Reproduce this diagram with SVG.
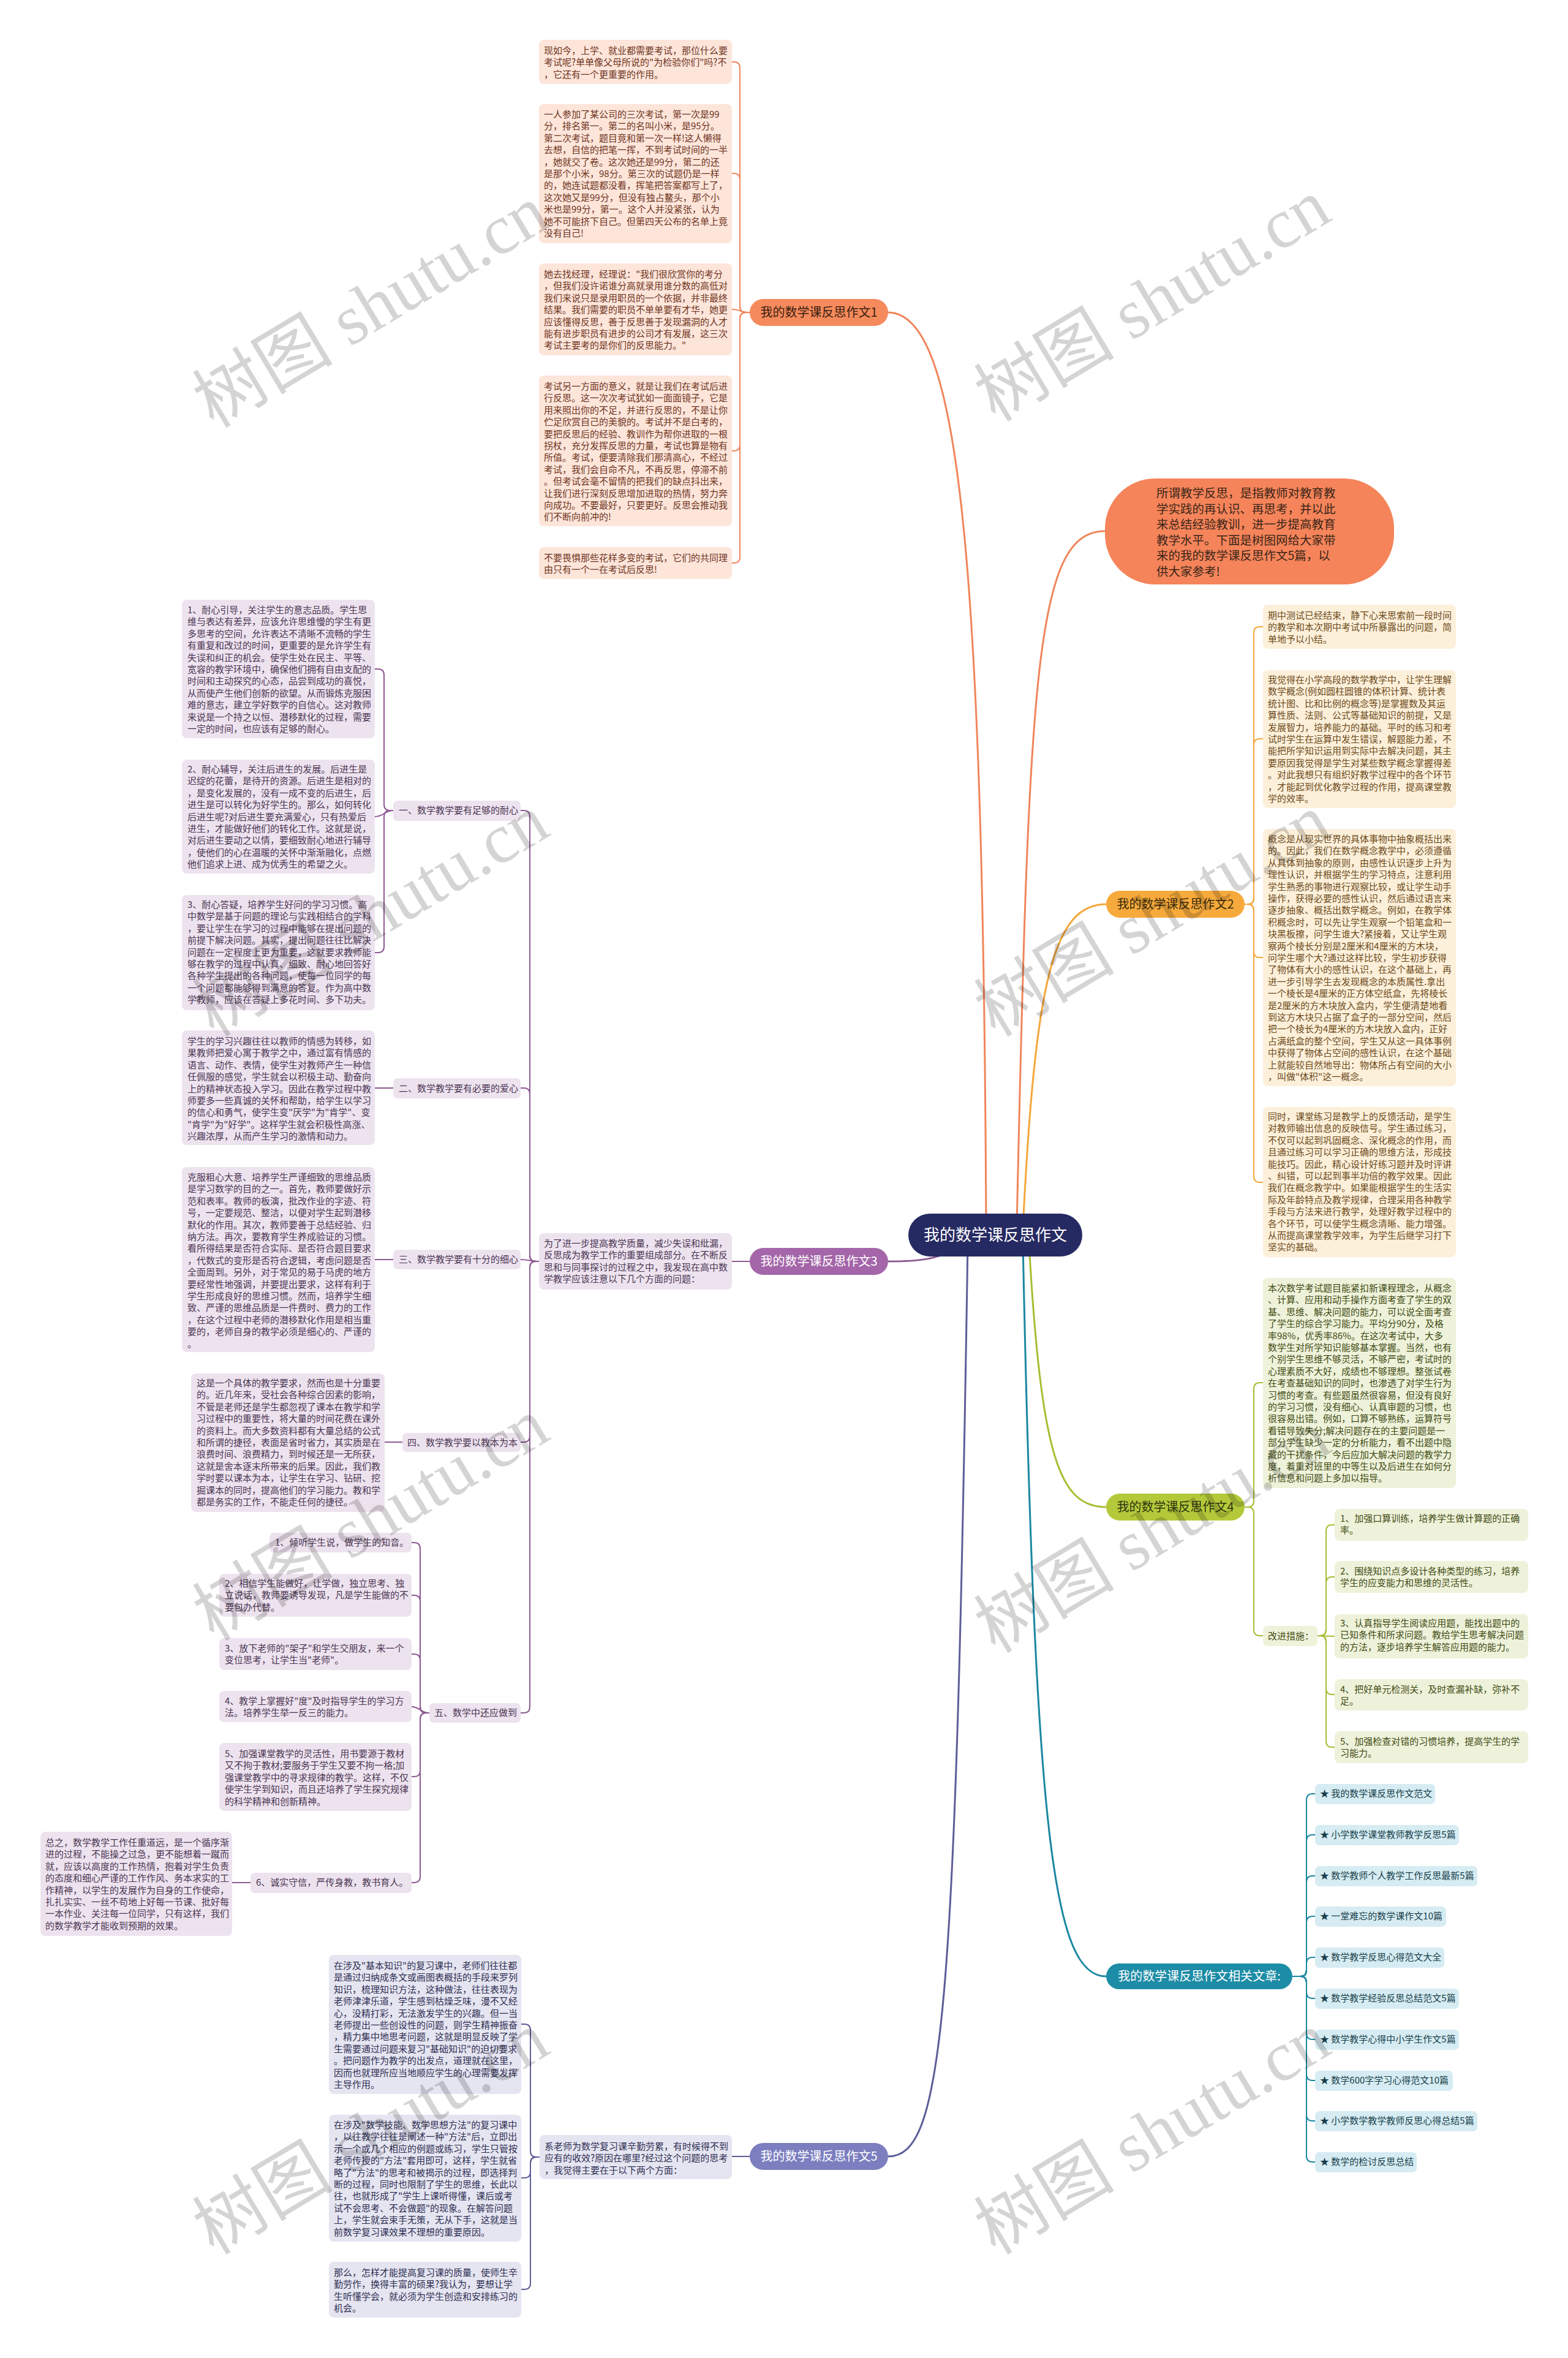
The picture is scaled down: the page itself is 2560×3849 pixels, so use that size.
<svg xmlns="http://www.w3.org/2000/svg" width="2560" height="3849" viewBox="0 0 2560 3849">
<style>
text{font-family:"Noto Sans CJK SC","Noto Sans",sans-serif;}
.lf{font-size:15px;}
.k1 rect{fill:#fde5da}.k1 text{fill:#6d3421}
.k2 rect{fill:#fdf0da}.k2 text{fill:#6b4a1a}
.k3 rect{fill:#ede3ef}.k3 text{fill:#4b3552}
.k4 rect{fill:#eef2da}.k4 text{fill:#3f4a14}
.k6 rect{fill:#d6ecf2}.k6 text{fill:#173e4a}
.k5 rect{fill:#e5e5f1}.k5 text{fill:#2e2e52}
.br text{font-size:20px;text-anchor:middle}
#connectors path{fill:none;stroke-width:2}
.s1{stroke:#f0855a}.s2{stroke:#f4a73a}.s3{stroke:#8e5a94}.s4{stroke:#a8bd32}.s6{stroke:#1a87a0}.s5{stroke:#5d5d97}
#connectors path.m{stroke-width:3}
.wm{font-family:"Liberation Serif","Noto Sans CJK SC",serif;font-size:115px;fill:#000;fill-opacity:0.17}
</style>
<rect width="2560" height="3849" fill="#ffffff"/>

<g id="connectors">
<!-- main -->
<path class="s1 m" d="M1610,2000 C1605,900 1565,510 1450,510"/>
<path class="s1 m" d="M1660,2000 C1680,1100 1690,867 1804,867"/>
<path class="s2 m" d="M1670,2005 C1690,1600 1720,1476 1806,1476"/>
<path class="s3 m" d="M1580,2030 C1530,2059 1490,2059 1450,2059"/>
<path class="s4 m" d="M1680,2030 C1700,2380 1730,2460 1806,2460"/>
<path class="s6 m" d="M1670,2030 C1690,3000 1720,3226 1806,3226"/>
<path class="s5 m" d="M1580,2030 C1560,3300 1540,3520 1450,3520"/>
<!-- branch 1 -->
<path class="s1" d="M1224,510 L1218,510 Q1208,510 1208,500 L1208,111 Q1208,101 1198,101 L1195,101"/>
<path class="s1" d="M1224,510 L1218,510 Q1208,510 1208,500 L1208,293 Q1208,283 1198,283 L1195,283"/>
<path class="s1" d="M1224,510 C1208,510 1210,505 1195,505"/>
<path class="s1" d="M1224,510 L1218,510 Q1208,510 1208,520 L1208,726 Q1208,736 1198,736 L1195,736"/>
<path class="s1" d="M1224,510 L1218,510 Q1208,510 1208,520 L1208,909 Q1208,919 1198,919 L1195,919"/>
<!-- branch 2 -->
<path class="s2" d="M2032,1476 L2037,1476 Q2047,1476 2047,1466 L2047,1033 Q2047,1023 2057,1023 L2062,1023"/>
<path class="s2" d="M2032,1476 L2037,1476 Q2047,1476 2047,1466 L2047,1216 Q2047,1206 2057,1206 L2062,1206"/>
<path class="s2" d="M2032,1476 L2037,1476 Q2047,1476 2047,1486 L2047,1553 Q2047,1563 2057,1563 L2062,1563"/>
<path class="s2" d="M2032,1476 L2037,1476 Q2047,1476 2047,1486 L2047,1920 Q2047,1930 2057,1930 L2062,1930"/>
<!-- branch 3 -->
<path class="s3" d="M1224,2059 L1195,2059"/>
<path class="s3" d="M880,2059 L875,2059 Q865,2059 865,2049 L865,1333 Q865,1323 855,1323 L850,1323"/>
<path class="s3" d="M880,2059 L875,2059 Q865,2059 865,2049 L865,1786 Q865,1776 855,1776 L850,1776"/>
<path class="s3" d="M880,2059 C865,2059 865,2056 850,2056"/>
<path class="s3" d="M880,2059 L875,2059 Q865,2059 865,2069 L865,2344 Q865,2354 855,2354 L850,2354"/>
<path class="s3" d="M880,2059 L875,2059 Q865,2059 865,2069 L865,2786 Q865,2796 855,2796 L850,2796"/>
<path class="s3" d="M642,1323 L637,1323 Q627,1323 627,1313 L627,1102 Q627,1092 617,1092 L612,1092"/>
<path class="s3" d="M642,1323 C627,1323 627,1333 612,1333"/>
<path class="s3" d="M642,1323 L637,1323 Q627,1323 627,1333 L627,1545 Q627,1555 617,1555 L612,1555"/>
<path class="s3" d="M642,1776 L612,1776"/>
<path class="s3" d="M642,2056 L612,2056"/>
<path class="s3" d="M657,2354 L628,2354"/>
<path class="s3" d="M701,2796 L696,2796 Q686,2796 686,2786 L686,2528 Q686,2518 676,2518 L672,2518"/>
<path class="s3" d="M701,2796 L696,2796 Q686,2796 686,2786 L686,2614 Q686,2604 676,2604 L672,2604"/>
<path class="s3" d="M701,2796 L696,2796 Q686,2796 686,2786 L686,2710 Q686,2700 676,2700 L672,2700"/>
<path class="s3" d="M701,2796 C686,2796 686,2786 672,2786"/>
<path class="s3" d="M701,2796 L696,2796 Q686,2796 686,2806 L686,2890 Q686,2900 676,2900 L672,2900"/>
<path class="s3" d="M701,2796 L696,2796 Q686,2796 686,2806 L686,3063 Q686,3073 676,3073 L672,3073"/>
<path class="s3" d="M409,3073 L379,3073"/>
<!-- branch 4 -->
<path class="s4" d="M2032,2460 L2037,2460 Q2047,2460 2047,2450 L2047,2267 Q2047,2257 2057,2257 L2062,2257"/>
<path class="s4" d="M2032,2460 L2037,2460 Q2047,2460 2047,2470 L2047,2660 Q2047,2670 2057,2670 L2062,2670"/>
<path class="s4" d="M2151,2670 L2155,2670 Q2165,2670 2165,2660 L2165,2499 Q2165,2489 2175,2489 L2179,2489"/>
<path class="s4" d="M2151,2670 L2155,2670 Q2165,2670 2165,2660 L2165,2584 Q2165,2574 2175,2574 L2179,2574"/>
<path class="s4" d="M2151,2670 L2179,2671"/>
<path class="s4" d="M2151,2670 L2155,2670 Q2165,2670 2165,2680 L2165,2756 Q2165,2766 2175,2766 L2179,2766"/>
<path class="s4" d="M2151,2670 L2155,2670 Q2165,2670 2165,2680 L2165,2842 Q2165,2852 2175,2852 L2179,2852"/>
<!-- related -->
<path class="s6" d="M2110,3226 L2123,3226 Q2133,3226 2133,3216 L2133,2938 Q2133,2928 2143,2928 L2147,2928"/>
<path class="s6" d="M2110,3226 L2123,3226 Q2133,3226 2133,3216 L2133,3005 Q2133,2995 2143,2995 L2147,2995"/>
<path class="s6" d="M2110,3226 L2123,3226 Q2133,3226 2133,3216 L2133,3072 Q2133,3062 2143,3062 L2147,3062"/>
<path class="s6" d="M2110,3226 L2123,3226 Q2133,3226 2133,3216 L2133,3138 Q2133,3128 2143,3128 L2147,3128"/>
<path class="s6" d="M2110,3226 L2123,3226 Q2133,3226 2133,3216 L2133,3205 Q2133,3195 2143,3195 L2147,3195"/>
<path class="s6" d="M2110,3226 L2123,3226 Q2133,3226 2133,3236 L2133,3252 Q2133,3262 2143,3262 L2147,3262"/>
<path class="s6" d="M2110,3226 L2123,3226 Q2133,3226 2133,3236 L2133,3319 Q2133,3329 2143,3329 L2147,3329"/>
<path class="s6" d="M2110,3226 L2123,3226 Q2133,3226 2133,3236 L2133,3386 Q2133,3396 2143,3396 L2147,3396"/>
<path class="s6" d="M2110,3226 L2123,3226 Q2133,3226 2133,3236 L2133,3452 Q2133,3462 2143,3462 L2147,3462"/>
<path class="s6" d="M2110,3226 L2123,3226 Q2133,3226 2133,3236 L2133,3519 Q2133,3529 2143,3529 L2147,3529"/>
<!-- branch 5 -->
<path class="s5" d="M1224,3520 L1195,3520"/>
<path class="s5" d="M881,3521 L876,3521 Q866,3521 866,3511 L866,3314 Q866,3304 856,3304 L851,3304"/>
<path class="s5" d="M881,3521 L876,3521 Q866,3521 866,3531 L866,3545 Q866,3555 856,3555 L851,3555"/>
<path class="s5" d="M881,3521 L876,3521 Q866,3521 866,3531 L866,3727 Q866,3737 856,3737 L851,3737"/>
</g>

<!-- central -->
<g id="central">
<rect x="1483" y="1981" width="284" height="70" rx="35" fill="#262a62"/>
<text x="1625" y="2025" font-size="26" fill="#ffffff" text-anchor="middle">我的数学课反思作文</text>
</g>

<!-- intro -->
<g id="intro">
<rect x="1804" y="781" width="472" height="173" rx="82" fill="#f5845a"/>
<text font-size="19.5" fill="#3a2418" x="1888" y="812">
<tspan x="1888">所谓教学反思，是指教师对教育教</tspan>
<tspan x="1888" dy="25.6">学实践的再认识、再思考，并以此</tspan>
<tspan x="1888" dy="25.6">来总结经验教训，进一步提高教育</tspan>
<tspan x="1888" dy="25.6">教学水平。下面是树图网给大家带</tspan>
<tspan x="1888" dy="25.6">来的我的数学课反思作文5篇，以</tspan>
<tspan x="1888" dy="25.6">供大家参考!</tspan>
</text>
</g>

<!-- branch nodes -->
<g id="b1" class="br"><rect x="1224" y="488" width="226" height="44" rx="22" fill="#f58a5c"/><text x="1337" y="517" fill="#3a1e10">我的数学课反思作文1</text></g>
<g id="b2" class="br"><rect x="1806" y="1454" width="226" height="44" rx="22" fill="#f7aa3c"/><text x="1919" y="1483" fill="#3a2a0a">我的数学课反思作文2</text></g>
<g id="b3" class="br"><rect x="1224" y="2037" width="226" height="44" rx="22" fill="#a466a9"/><text x="1337" y="2066" fill="#ffffff">我的数学课反思作文3</text></g>
<g id="b4" class="br"><rect x="1806" y="2438" width="226" height="44" rx="22" fill="#b4c93a"/><text x="1919" y="2467" fill="#2f3510">我的数学课反思作文4</text></g>
<g id="b6" class="br"><rect x="1806" y="3205" width="304" height="42" rx="21" fill="#1d8ca6"/><text x="1958" y="3233" fill="#ffffff">我的数学课反思作文相关文章:</text></g>
<g id="b5" class="br"><rect x="1224" y="3498" width="226" height="44" rx="22" fill="#7c7ebf"/><text x="1337" y="3527" fill="#ffffff">我的数学课反思作文5</text></g>

<!-- branch 1 leaves -->
<g class="k1 lf">
<g id="b1l1"><rect x="880" y="65" width="315" height="72" rx="8"/>
<text x="888" y="88"><tspan x="888">现如今，上学、就业都需要考试，那位什么要</tspan><tspan x="888" dy="19.4">考试呢?单单像父母所说的"为检验你们"吗?不</tspan><tspan x="888" dy="19.4">，它还有一个更重要的作用。</tspan></text></g>
<g id="b1l2"><rect x="880" y="170" width="315" height="227" rx="8"/>
<text x="888" y="192"><tspan x="888">一人参加了某公司的三次考试，第一次是99</tspan><tspan x="888" dy="19.4">分，排名第一。第二的名叫小米，是95分。</tspan><tspan x="888" dy="19.4">第二次考试，题目竟和第一次一样!这人懒得</tspan><tspan x="888" dy="19.4">去想，自信的把笔一挥，不到考试时间的一半</tspan><tspan x="888" dy="19.4">，她就交了卷。这次她还是99分，第二的还</tspan><tspan x="888" dy="19.4">是那个小米，98分。第三次的试题仍是一样</tspan><tspan x="888" dy="19.4">的，她连试题都没看，挥笔把答案都写上了，</tspan><tspan x="888" dy="19.4">这次她又是99分，但没有独占鳌头，那个小</tspan><tspan x="888" dy="19.4">米也是99分，第一。这个人并没紧张，认为</tspan><tspan x="888" dy="19.4">她不可能挤下自己。但第四天公布的名单上竟</tspan><tspan x="888" dy="19.4">没有自己!</tspan></text></g>
<g id="b1l3"><rect x="880" y="430" width="315" height="150" rx="8"/>
<text x="888" y="453"><tspan x="888">她去找经理，经理说："我们很欣赏你的考分</tspan><tspan x="888" dy="19.4">，但我们没许诺谁分高就录用谁分数的高低对</tspan><tspan x="888" dy="19.4">我们来说只是录用职员的一个依据，并非最终</tspan><tspan x="888" dy="19.4">结果。我们需要的职员不单单要有才华，她更</tspan><tspan x="888" dy="19.4">应该懂得反思，善于反思善于发现漏洞的人才</tspan><tspan x="888" dy="19.4">能有进步职员有进步的公司才有发展，这三次</tspan><tspan x="888" dy="19.4">考试主要考的是你们的反思能力。"</tspan></text></g>
<g id="b1l4"><rect x="880" y="613" width="315" height="246" rx="8"/>
<text x="888" y="636"><tspan x="888">考试另一方面的意义，就是让我们在考试后进</tspan><tspan x="888" dy="19.4">行反思。这一次次考试犹如一面面镜子，它是</tspan><tspan x="888" dy="19.4">用来照出你的不足，并进行反思的，不是让你</tspan><tspan x="888" dy="19.4">伫足欣赏自己的美貌的。考试并不是白考的，</tspan><tspan x="888" dy="19.4">要把反思后的经验、教训作为帮你进取的一根</tspan><tspan x="888" dy="19.4">拐杖，充分发挥反思的力量，考试也算是物有</tspan><tspan x="888" dy="19.4">所值。考试，便要清除我们那清高心，不经过</tspan><tspan x="888" dy="19.4">考试，我们会自命不凡，不再反思，停滞不前</tspan><tspan x="888" dy="19.4">。但考试会毫不留情的把我们的缺点抖出来，</tspan><tspan x="888" dy="19.4">让我们进行深刻反思增加进取的热情，努力奔</tspan><tspan x="888" dy="19.4">向成功。不要最好，只要更好。反思会推动我</tspan><tspan x="888" dy="19.4">们不断向前冲的!</tspan></text></g>
<g id="b1l5"><rect x="880" y="893" width="315" height="52" rx="8"/>
<text x="888" y="916"><tspan x="888">不要畏惧那些花样多变的考试，它们的共同理</tspan><tspan x="888" dy="19.4">由只有一个一在考试后反思!</tspan></text></g>
</g>

<!-- branch 2 leaves -->
<g class="k2 lf">
<g id="b2l1"><rect x="2062" y="987" width="315" height="72" rx="8"/>
<text x="2070" y="1010"><tspan x="2070">期中测试已经结束，静下心来思索前一段时间</tspan><tspan x="2070" dy="19.4">的教学和本次期中考试中所暴露出的问题，简</tspan><tspan x="2070" dy="19.4">单地予以小结。</tspan></text></g>
<g id="b2l2"><rect x="2062" y="1094" width="315" height="225" rx="8"/>
<text x="2070" y="1115"><tspan x="2070">我觉得在小学高段的数学教学中，让学生理解</tspan><tspan x="2070" dy="19.4">数学概念(例如圆柱圆锥的体积计算、统计表</tspan><tspan x="2070" dy="19.4">统计图、比和比例的概念等)是掌握数及其运</tspan><tspan x="2070" dy="19.4">算性质、法则、公式等基础知识的前提，又是</tspan><tspan x="2070" dy="19.4">发展智力，培养能力的基础。平时的练习和考</tspan><tspan x="2070" dy="19.4">试时学生在运算中发生错误，解题能力差，不</tspan><tspan x="2070" dy="19.4">能把所学知识运用到实际中去解决问题，其主</tspan><tspan x="2070" dy="19.4">要原因我觉得是学生对某些数学概念掌握得差</tspan><tspan x="2070" dy="19.4">。对此我想只有组织好教学过程中的各个环节</tspan><tspan x="2070" dy="19.4">，才能起到优化教学过程的作用，提高课堂教</tspan><tspan x="2070" dy="19.4">学的效率。</tspan></text></g>
<g id="b2l3"><rect x="2062" y="1353" width="315" height="420" rx="8"/>
<text x="2070" y="1375"><tspan x="2070">概念是从现实世界的具体事物中抽象概括出来</tspan><tspan x="2070" dy="19.4">的。因此，我们在数学概念教学中，必须遵循</tspan><tspan x="2070" dy="19.4">从具体到抽象的原则，由感性认识逐步上升为</tspan><tspan x="2070" dy="19.4">理性认识，并根据学生的学习特点，注意利用</tspan><tspan x="2070" dy="19.4">学生熟悉的事物进行观察比较，或让学生动手</tspan><tspan x="2070" dy="19.4">操作，获得必要的感性认识，然后通过语言来</tspan><tspan x="2070" dy="19.4">逐步抽象、概括出数学概念。例如，在教学体</tspan><tspan x="2070" dy="19.4">积概念时，可以先让学生观察一个铅笔盒和一</tspan><tspan x="2070" dy="19.4">块黑板擦，问学生谁大?紧接着，又让学生观</tspan><tspan x="2070" dy="19.4">察两个棱长分别是2厘米和4厘米的方木块，</tspan><tspan x="2070" dy="19.4">问学生哪个大?通过这样比较，学生初步获得</tspan><tspan x="2070" dy="19.4">了物体有大小的感性认识，在这个基础上，再</tspan><tspan x="2070" dy="19.4">进一步引导学生去发现概念的本质属性.拿出</tspan><tspan x="2070" dy="19.4">一个棱长是4厘米的正方体空纸盒，先将棱长</tspan><tspan x="2070" dy="19.4">是2厘米的方木块放入盒内，学生便清楚地看</tspan><tspan x="2070" dy="19.4">到这方木块只占据了盒子的一部分空间，然后</tspan><tspan x="2070" dy="19.4">把一个棱长为4厘米的方木块放入盒内，正好</tspan><tspan x="2070" dy="19.4">占满纸盒的整个空间，学生又从这一具体事例</tspan><tspan x="2070" dy="19.4">中获得了物体占空间的感性认识，在这个基础</tspan><tspan x="2070" dy="19.4">上就能较自然地导出：物体所占有空间的大小</tspan><tspan x="2070" dy="19.4">，叫做"体积"这一概念。</tspan></text></g>
<g id="b2l4"><rect x="2062" y="1807" width="315" height="245" rx="8"/>
<text x="2070" y="1828"><tspan x="2070">同时，课堂练习是教学上的反馈活动，是学生</tspan><tspan x="2070" dy="19.4">对教师输出信息的反映信号。学生通过练习，</tspan><tspan x="2070" dy="19.4">不仅可以起到巩固概念、深化概念的作用，而</tspan><tspan x="2070" dy="19.4">且通过练习可以学习正确的思维方法，形成技</tspan><tspan x="2070" dy="19.4">能技巧。因此，精心设计好练习题并及时评讲</tspan><tspan x="2070" dy="19.4">、纠错，可以起到事半功倍的教学效果。因此</tspan><tspan x="2070" dy="19.4">我们在概念教学中。如果能根据学生的生活实</tspan><tspan x="2070" dy="19.4">际及年龄特点及教学规律，合理采用各种教学</tspan><tspan x="2070" dy="19.4">手段与方法来进行教学，处理好教学过程中的</tspan><tspan x="2070" dy="19.4">各个环节，可以使学生概念清晰、能力增强。</tspan><tspan x="2070" dy="19.4">从而提高课堂教学效率，为学生后继学习打下</tspan><tspan x="2070" dy="19.4">坚实的基础。</tspan></text></g>
</g>

<!-- branch 3 -->
<g class="k3 lf">
<g id="b3desc"><rect x="880" y="2013" width="315" height="92" rx="8"/>
<text x="888" y="2035"><tspan x="888">为了进一步提高教学质量，减少失误和纰漏，</tspan><tspan x="888" dy="19.4">反思成为教学工作的重要组成部分。在不断反</tspan><tspan x="888" dy="19.4">思和与同事探讨的过程之中，我发现在高中数</tspan><tspan x="888" dy="19.4">学教学应该注意以下几个方面的问题：</tspan></text></g>
<g id="b3s1"><rect x="642" y="1307" width="208" height="33" rx="7"/><text x="651" y="1328">一、数学教学要有足够的耐心</text></g>
<g id="b3s2"><rect x="642" y="1760" width="208" height="33" rx="7"/><text x="651" y="1782">二、数学教学要有必要的爱心</text></g>
<g id="b3s3"><rect x="642" y="2040" width="208" height="32" rx="7"/><text x="651" y="2061">三、数学教学要有十分的细心</text></g>
<g id="b3s4"><rect x="657" y="2339" width="193" height="31" rx="7"/><text x="665" y="2360">四、数学教学要以教本为本</text></g>
<g id="b3s5"><rect x="701" y="2780" width="149" height="32" rx="7"/><text x="709" y="2801">五、数学中还应做到</text></g>
<g id="b3s1a"><rect x="297" y="979" width="315" height="226" rx="8"/>
<text x="306" y="1001"><tspan x="306">1、耐心引导，关注学生的意志品质。学生思</tspan><tspan x="306" dy="19.4">维与表达有差异，应该允许思维慢的学生有更</tspan><tspan x="306" dy="19.4">多思考的空间，允许表达不清晰不流畅的学生</tspan><tspan x="306" dy="19.4">有重复和改过的时间，更重要的是允许学生有</tspan><tspan x="306" dy="19.4">失误和纠正的机会。使学生处在民主、平等、</tspan><tspan x="306" dy="19.4">宽容的教学环境中，确保他们拥有自由支配的</tspan><tspan x="306" dy="19.4">时间和主动探究的心态，品尝到成功的喜悦，</tspan><tspan x="306" dy="19.4">从而使产生他们创新的欲望。从而锻炼克服困</tspan><tspan x="306" dy="19.4">难的意志，建立学好数学的自信心。这对教师</tspan><tspan x="306" dy="19.4">来说是一个持之以恒、潜移默化的过程，需要</tspan><tspan x="306" dy="19.4">一定的时间，也应该有足够的耐心。</tspan></text></g>
<g id="b3s1b"><rect x="297" y="1240" width="315" height="186" rx="8"/>
<text x="306" y="1261"><tspan x="306">2、耐心辅导，关注后进生的发展。后进生是</tspan><tspan x="306" dy="19.4">迟绽的花蕾，是待开的资源。后进生是相对的</tspan><tspan x="306" dy="19.4">，是变化发展的，没有一成不变的后进生，后</tspan><tspan x="306" dy="19.4">进生是可以转化为好学生的。那么，如何转化</tspan><tspan x="306" dy="19.4">后进生呢?对后进生要充满爱心，只有热爱后</tspan><tspan x="306" dy="19.4">进生，才能做好他们的转化工作。这就是说，</tspan><tspan x="306" dy="19.4">对后进生要动之以情，要细致耐心地进行辅导</tspan><tspan x="306" dy="19.4">，使他们的心在温暖的关怀中渐渐融化，点燃</tspan><tspan x="306" dy="19.4">他们追求上进、成为优秀生的希望之火。</tspan></text></g>
<g id="b3s1c"><rect x="297" y="1461" width="315" height="188" rx="8"/>
<text x="306" y="1482"><tspan x="306">3、耐心答疑，培养学生好问的学习习惯。高</tspan><tspan x="306" dy="19.4">中数学是基于问题的理论与实践相结合的学科</tspan><tspan x="306" dy="19.4">，要让学生在学习的过程中能够在提出问题的</tspan><tspan x="306" dy="19.4">前提下解决问题。其实，提出问题往往比解决</tspan><tspan x="306" dy="19.4">问题在一定程度上更为重要，这就要求教师能</tspan><tspan x="306" dy="19.4">够在教学的过程中认真、细致、耐心地回答好</tspan><tspan x="306" dy="19.4">各种学生提出的各种问题，使每一位同学的每</tspan><tspan x="306" dy="19.4">一个问题都能够得到满意的答复。作为高中数</tspan><tspan x="306" dy="19.4">学教师，应该在答疑上多花时间、多下功夫。</tspan></text></g>
<g id="b3s2a"><rect x="297" y="1682" width="315" height="187" rx="8"/>
<text x="306" y="1705"><tspan x="306">学生的学习兴趣往往以教师的情感为转移，如</tspan><tspan x="306" dy="19.4">果教师把爱心寓于教学之中，通过富有情感的</tspan><tspan x="306" dy="19.4">语言、动作、表情，使学生对教师产生一种信</tspan><tspan x="306" dy="19.4">任佩服的感觉，学生就会以积极主动、勤奋向</tspan><tspan x="306" dy="19.4">上的精神状态投入学习。因此在教学过程中教</tspan><tspan x="306" dy="19.4">师要多一些真诚的关怀和帮助，给学生以学习</tspan><tspan x="306" dy="19.4">的信心和勇气，使学生变"厌学"为"肯学"、变</tspan><tspan x="306" dy="19.4">"肯学"为"好学"。这样学生就会积极性高涨、</tspan><tspan x="306" dy="19.4">兴趣浓厚，从而产生学习的激情和动力。</tspan></text></g>
<g id="b3s3a"><rect x="297" y="1905" width="315" height="302" rx="8"/>
<text x="306" y="1927"><tspan x="306">克服粗心大意、培养学生严谨细致的思维品质</tspan><tspan x="306" dy="19.4">是学习数学的目的之一。首先，教师要做好示</tspan><tspan x="306" dy="19.4">范和表率。教师的板演，批改作业的字迹、符</tspan><tspan x="306" dy="19.4">号，一定要规范、整洁，以便对学生起到潜移</tspan><tspan x="306" dy="19.4">默化的作用。其次，教师要善于总结经验、归</tspan><tspan x="306" dy="19.4">纳方法。再次，要教育学生养成验证的习惯。</tspan><tspan x="306" dy="19.4">看所得结果是否符合实际、是否符合题目要求</tspan><tspan x="306" dy="19.4">，代数式的变形是否符合逻辑，考虑问题是否</tspan><tspan x="306" dy="19.4">全面周到。另外，对于常见的易于马虎的地方</tspan><tspan x="306" dy="19.4">要经常性地强调，并要提出要求，这样有利于</tspan><tspan x="306" dy="19.4">学生形成良好的思维习惯。然而，培养学生细</tspan><tspan x="306" dy="19.4">致、严谨的思维品质是一件费时、费力的工作</tspan><tspan x="306" dy="19.4">，在这个过程中老师的潜移默化作用是相当重</tspan><tspan x="306" dy="19.4">要的，老师自身的教学必须是细心的、严谨的</tspan><tspan x="306" dy="19.4">。</tspan></text></g>
<g id="b3s4a"><rect x="312" y="2242" width="316" height="226" rx="8"/>
<text x="321" y="2263"><tspan x="321">这是一个具体的教学要求，然而也是十分重要</tspan><tspan x="321" dy="19.4">的。近几年来，受社会各种综合因素的影响，</tspan><tspan x="321" dy="19.4">不管是老师还是学生都忽视了课本在教学和学</tspan><tspan x="321" dy="19.4">习过程中的重要性，将大量的时间花费在课外</tspan><tspan x="321" dy="19.4">的资料上。而大多数资料都有大量总结的公式</tspan><tspan x="321" dy="19.4">和所谓的捷径，表面是省时省力，其实质是在</tspan><tspan x="321" dy="19.4">浪费时间、浪费精力，到时候还是一无所获，</tspan><tspan x="321" dy="19.4">这就是舍本逐末所带来的后果。因此，我们教</tspan><tspan x="321" dy="19.4">学时要以课本为本，让学生在学习、钻研、挖</tspan><tspan x="321" dy="19.4">掘课本的同时，提高他们的学习能力。教和学</tspan><tspan x="321" dy="19.4">都是务实的工作，不能走任何的捷径。</tspan></text></g>
<g id="b3s5a"><rect x="440" y="2502" width="232" height="32" rx="7"/><text x="449" y="2523">1、倾听学生说，做学生的知音。</text></g>
<g id="b3s5b"><rect x="358" y="2569" width="314" height="70" rx="8"/>
<text x="367" y="2590"><tspan x="367">2、相信学生能做好，让学做，独立思考、独</tspan><tspan x="367" dy="19.4">立说话，教师要诱导发现，凡是学生能做的不</tspan><tspan x="367" dy="19.4">要包办代替。</tspan></text></g>
<g id="b3s5c"><rect x="358" y="2674" width="314" height="52" rx="8"/>
<text x="367" y="2696"><tspan x="367">3、放下老师的"架子"和学生交朋友，来一个</tspan><tspan x="367" dy="19.4">变位思考，让学生当"老师"。</tspan></text></g>
<g id="b3s5d"><rect x="358" y="2760" width="314" height="51" rx="8"/>
<text x="367" y="2782"><tspan x="367">4、教学上掌握好"度"及时指导学生的学习方</tspan><tspan x="367" dy="19.4">法。培养学生举一反三的能力。</tspan></text></g>
<g id="b3s5e"><rect x="358" y="2845" width="314" height="111" rx="8"/>
<text x="367" y="2868"><tspan x="367">5、加强课堂教学的灵活性，用书要源于教材</tspan><tspan x="367" dy="19.4">又不拘于教材;要服务于学生又要不拘一格;加</tspan><tspan x="367" dy="19.4">强课堂教学中的寻求规律的教学。这样，不仅</tspan><tspan x="367" dy="19.4">使学生学到知识，而且还培养了学生探究规律</tspan><tspan x="367" dy="19.4">的科学精神和创新精神。</tspan></text></g>
<g id="b3s5f"><rect x="409" y="3057" width="263" height="33" rx="7"/><text x="418" y="3078">6、诚实守信，严传身教，教书育人。</text></g>
<g id="b3s5f1"><rect x="66" y="2990" width="313" height="170" rx="8"/>
<text x="74" y="3013"><tspan x="74">总之，数学教学工作任重道远，是一个循序渐</tspan><tspan x="74" dy="19.4">进的过程，不能操之过急，更不能想着一蹴而</tspan><tspan x="74" dy="19.4">就，应该以高度的工作热情，抱着对学生负责</tspan><tspan x="74" dy="19.4">的态度和细心严谨的工作作风、务本求实的工</tspan><tspan x="74" dy="19.4">作精神，以学生的发展作为自身的工作使命，</tspan><tspan x="74" dy="19.4">扎扎实实、一丝不苟地上好每一节课、批好每</tspan><tspan x="74" dy="19.4">一本作业、关注每一位同学，只有这样，我们</tspan><tspan x="74" dy="19.4">的数学教学才能收到预期的效果。</tspan></text></g>
</g>

<!-- branch 4 -->
<g class="k4 lf">
<g id="b4l1"><rect x="2062" y="2086" width="315" height="343" rx="8"/>
<text x="2070" y="2108"><tspan x="2070">本次数学考试题目能紧扣新课程理念，从概念</tspan><tspan x="2070" dy="19.4">、计算、应用和动手操作方面考查了学生的双</tspan><tspan x="2070" dy="19.4">基、思维、解决问题的能力，可以说全面考查</tspan><tspan x="2070" dy="19.4">了学生的综合学习能力。平均分90分，及格</tspan><tspan x="2070" dy="19.4">率98%，优秀率86%。在这次考试中，大多</tspan><tspan x="2070" dy="19.4">数学生对所学知识能够基本掌握。当然，也有</tspan><tspan x="2070" dy="19.4">个别学生思维不够灵活，不够严密，考试时的</tspan><tspan x="2070" dy="19.4">心理素质不大好，成绩也不够理想。整张试卷</tspan><tspan x="2070" dy="19.4">在考查基础知识的同时，也渗透了对学生行为</tspan><tspan x="2070" dy="19.4">习惯的考查。有些题虽然很容易，但没有良好</tspan><tspan x="2070" dy="19.4">的学习习惯，没有细心、认真审题的习惯，也</tspan><tspan x="2070" dy="19.4">很容易出错。例如，口算不够熟练，运算符号</tspan><tspan x="2070" dy="19.4">看错导致失分;解决问题存在的主要问题是一</tspan><tspan x="2070" dy="19.4">部分学生缺少一定的分析能力，看不出题中隐</tspan><tspan x="2070" dy="19.4">藏的干扰条件，今后应加大解决问题的教学力</tspan><tspan x="2070" dy="19.4">度，着重对班里的中等生以及后进生在如何分</tspan><tspan x="2070" dy="19.4">析信息和问题上多加以指导。</tspan></text></g>
<g id="b4l2"><rect x="2062" y="2654" width="89" height="33" rx="7"/><text x="2070" y="2676">改进措施：</text></g>
<g id="b4l2a"><rect x="2179" y="2463" width="316" height="52" rx="8"/>
<text x="2188" y="2484"><tspan x="2188">1、加强口算训练，培养学生做计算题的正确</tspan><tspan x="2188" dy="19.4">率。</tspan></text></g>
<g id="b4l2b"><rect x="2179" y="2548" width="316" height="52" rx="8"/>
<text x="2188" y="2570"><tspan x="2188">2、围绕知识点多设计各种类型的练习，培养</tspan><tspan x="2188" dy="19.4">学生的应变能力和思维的灵活性。</tspan></text></g>
<g id="b4l2c"><rect x="2179" y="2635" width="316" height="72" rx="8"/>
<text x="2188" y="2655"><tspan x="2188">3、认真指导学生阅读应用题，能找出题中的</tspan><tspan x="2188" dy="19.4">已知条件和所求问题。教给学生思考解决问题</tspan><tspan x="2188" dy="19.4">的方法，逐步培养学生解答应用题的能力。</tspan></text></g>
<g id="b4l2d"><rect x="2179" y="2741" width="316" height="51" rx="8"/>
<text x="2188" y="2763"><tspan x="2188">4、把好单元检测关，及时查漏补缺，弥补不</tspan><tspan x="2188" dy="19.4">足。</tspan></text></g>
<g id="b4l2e"><rect x="2179" y="2826" width="316" height="52" rx="8"/>
<text x="2188" y="2848"><tspan x="2188">5、加强检查对错的习惯培养，提高学生的学</tspan><tspan x="2188" dy="19.4">习能力。</tspan></text></g>
</g>

<!-- related -->
<g class="k6 lf">
<g id="r1"><rect x="2147" y="2912" width="196" height="33" rx="7"/><text x="2155" y="2933">★ 我的数学课反思作文范文</text></g>
<g id="r2"><rect x="2147" y="2979" width="235" height="33" rx="7"/><text x="2155" y="3000">★ 小学数学课堂教师教学反思5篇</text></g>
<g id="r3"><rect x="2147" y="3046" width="265" height="33" rx="7"/><text x="2155" y="3067">★ 数学教师个人教学工作反思最新5篇</text></g>
<g id="r4"><rect x="2147" y="3112" width="214" height="33" rx="7"/><text x="2155" y="3133">★ 一堂难忘的数学课作文10篇</text></g>
<g id="r5"><rect x="2147" y="3179" width="211" height="33" rx="7"/><text x="2155" y="3200">★ 数学教学反思心得范文大全</text></g>
<g id="r6"><rect x="2147" y="3246" width="235" height="33" rx="7"/><text x="2155" y="3267">★ 数学教学经验反思总结范文5篇</text></g>
<g id="r7"><rect x="2147" y="3313" width="235" height="33" rx="7"/><text x="2155" y="3334">★ 数学教学心得中小学生作文5篇</text></g>
<g id="r8"><rect x="2147" y="3380" width="225" height="33" rx="7"/><text x="2155" y="3401">★ 数学600字学习心得范文10篇</text></g>
<g id="r9"><rect x="2147" y="3446" width="265" height="33" rx="7"/><text x="2155" y="3467">★ 小学数学教学教师反思心得总结5篇</text></g>
<g id="r10"><rect x="2147" y="3513" width="166" height="33" rx="7"/><text x="2155" y="3534">★ 数学的检讨反思总结</text></g>
</g>

<!-- branch 5 -->
<g class="k5 lf">
<g id="b5desc"><rect x="881" y="3485" width="314" height="72" rx="8"/>
<text x="889" y="3509"><tspan x="889">系老师为数学复习课辛勤劳累，有时候得不到</tspan><tspan x="889" dy="19.4">应有的收效?原因在哪里?经过这个问题的思考</tspan><tspan x="889" dy="19.4">，我觉得主要在于以下两个方面：</tspan></text></g>
<g id="b5l1"><rect x="537" y="3191" width="314" height="227" rx="8"/>
<text x="545" y="3214"><tspan x="545">在涉及"基本知识"的复习课中，老师们往往都</tspan><tspan x="545" dy="19.4">是通过归纳成条文或画图表概括的手段来罗列</tspan><tspan x="545" dy="19.4">知识，梳理知识方法，这种做法，往往表现为</tspan><tspan x="545" dy="19.4">老师津津乐道，学生感到枯燥乏味，漫不又经</tspan><tspan x="545" dy="19.4">心，没精打彩，无法激发学生的兴趣。但一当</tspan><tspan x="545" dy="19.4">老师提出一些创设性的问题，则学生精神振奋</tspan><tspan x="545" dy="19.4">，精力集中地思考问题，这就是明显反映了学</tspan><tspan x="545" dy="19.4">生需要通过问题来复习"基础知识"的迫切要求</tspan><tspan x="545" dy="19.4">。把问题作为教学的出发点，道理就在这里，</tspan><tspan x="545" dy="19.4">因而也就理所应当地顺应学生的心理需要发挥</tspan><tspan x="545" dy="19.4">主导作用。</tspan></text></g>
<g id="b5l2"><rect x="537" y="3452" width="314" height="207" rx="8"/>
<text x="545" y="3474"><tspan x="545">在涉及"数学技能、数学思想方法"的复习课中</tspan><tspan x="545" dy="19.4">，以往教学往往是阐述一种"方法"后，立即出</tspan><tspan x="545" dy="19.4">示一个或几个相应的例题或练习，学生只管按</tspan><tspan x="545" dy="19.4">老师传授的"方法"套用即可，这样，学生就省</tspan><tspan x="545" dy="19.4">略了"方法"的思考和被揭示的过程，即选择判</tspan><tspan x="545" dy="19.4">断的过程，同时也限制了学生的思维，长此以</tspan><tspan x="545" dy="19.4">往，也就形成了"学生上课听得懂，课后或考</tspan><tspan x="545" dy="19.4">试不会思考、不会做题"的现象。在解答问题</tspan><tspan x="545" dy="19.4">上，学生就会束手无策，无从下手，这就是当</tspan><tspan x="545" dy="19.4">前数学复习课效果不理想的重要原因。</tspan></text></g>
<g id="b5l3"><rect x="537" y="3692" width="314" height="91" rx="8"/>
<text x="545" y="3715"><tspan x="545">那么，怎样才能提高复习课的质量，使师生辛</tspan><tspan x="545" dy="19.4">勤劳作，换得丰富的硕果?我认为，要想让学</tspan><tspan x="545" dy="19.4">生听懂学会，就必须为学生创造和安排练习的</tspan><tspan x="545" dy="19.4">机会。</tspan></text></g>
</g>

<!-- watermarks -->
<g id="watermarks">
<text class="wm" transform="translate(349,700) rotate(-31)">树图 shutu.cn</text>
<text class="wm" transform="translate(1625,690) rotate(-31)">树图 shutu.cn</text>
<text class="wm" transform="translate(349,1694) rotate(-31)">树图 shutu.cn</text>
<text class="wm" transform="translate(1625,1694) rotate(-31)">树图 shutu.cn</text>
<text class="wm" transform="translate(349,2680) rotate(-31)">树图 shutu.cn</text>
<text class="wm" transform="translate(1625,2700) rotate(-31)">树图 shutu.cn</text>
<text class="wm" transform="translate(349,3682) rotate(-31)">树图 shutu.cn</text>
<text class="wm" transform="translate(1625,3682) rotate(-31)">树图 shutu.cn</text>
</g>
</svg>
